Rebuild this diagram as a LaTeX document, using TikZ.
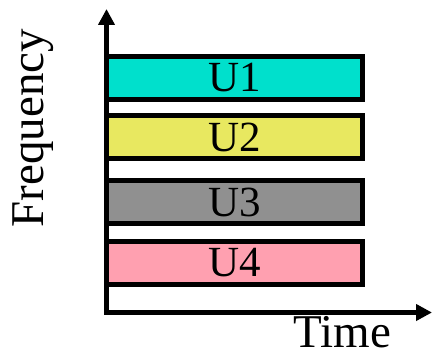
\documentclass[tikz,border=0pt]{standalone}
\usepackage{fontspec}
\setmainfont{Liberation Serif}
\usetikzlibrary{arrows.meta}
\definecolor{cone}{RGB}{0,224,204}
\definecolor{ctwo}{RGB}{232,232,96}
\definecolor{cthree}{RGB}{144,144,144}
\definecolor{cfour}{RGB}{255,160,176}
\tikzset{
  barbox/.style={draw=black, line width=5pt, rectangle, minimum width=256pt, minimum height=43pt, inner sep=0pt, font=\fontsize{43}{43}\selectfont},
  axisline/.style={line width=5pt, line join=miter, {Triangle[length=16pt,width=16pt]}-{Triangle[length=16pt,width=16pt]}},
  axislabel/.style={font=\fontsize{47}{47}\selectfont, inner sep=0pt, anchor=base, text depth=0pt}
}
\begin{document}
\begin{tikzpicture}[x=1pt,y=-1pt]
\useasboundingbox (0,0) rectangle (433,353);
\node[barbox, fill=cone] (u1) at (234.5,78) {U1};
\node[barbox, fill=ctwo] (u2) at (234.5,137.25) {U2};
\node[barbox, fill=cthree] (u3) at (234.5,202) {U3};
\node[barbox, fill=cfour] (u4) at (234.5,263) {U4};
\coordinate (ytip) at (106.5,9);
\coordinate (orig) at (106.5,312.5);
\coordinate (xtip) at (432,312.5);
\draw[axisline] (ytip) -- (orig) -- (xtip);
\node[axislabel, rotate=90] (freq) at (43,128) {Frequency};
\node[axislabel] (time) at (342.5,347) {Time};
\end{tikzpicture}
\end{document}
